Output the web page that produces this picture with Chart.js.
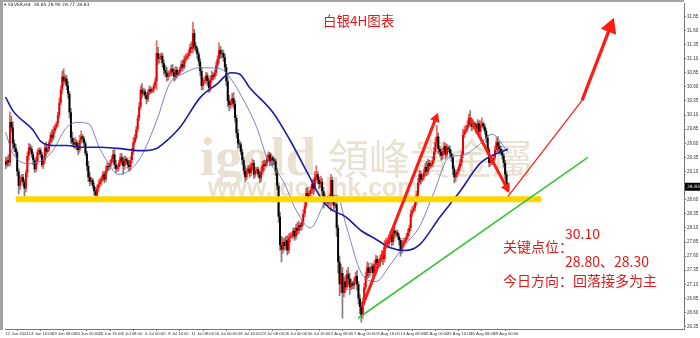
<!DOCTYPE html>
<html><head><meta charset="utf-8">
<script src="https://cdn.jsdelivr.net/npm/chart.js@4.4.1/dist/chart.umd.min.js"></script>
<style>html,body{margin:0;padding:0;background:#fff;overflow:hidden}canvas{display:block}</style>
</head><body>
<canvas id="c" width="700" height="338"></canvas>
<script>
// ---- H4 candles, 12 Jun 2024 00:00 .. 30 Aug 2024 16:00 (6 bars per day) ----
const opens = [
29.28,29.22,29.30,29.26,29.98,29.88, 29.60,29.52,29.44,29.10,28.85,28.95, 29.00,28.92,28.80,29.08,29.38,29.52,
29.50,29.40,29.30,29.14,29.28,29.45, 29.48,29.40,29.22,29.30,29.52,29.45, 29.50,29.62,29.75,29.70,29.82,29.88,
29.95,30.10,30.32,30.55,30.78,30.70, 30.75,30.62,30.48,30.15,29.70,29.62, 29.58,29.62,29.55,29.48,29.65,29.72,
29.68,29.60,29.42,29.20,29.00,28.92, 28.95,28.85,28.75,28.68,28.80,28.88, 28.92,28.98,29.05,28.96,29.12,29.20,
29.18,29.25,29.32,29.40,29.22,29.15, 29.18,29.25,29.35,29.28,29.20,29.32, 29.30,29.22,29.18,29.30,29.45,29.62,
29.70,29.85,30.05,30.25,30.55,30.48, 30.52,30.45,30.38,30.50,30.56,30.52, 30.55,30.62,30.70,31.20,31.10,31.12,
31.15,31.02,30.90,30.85,30.78,30.82, 30.85,30.92,30.86,30.78,30.90,30.82, 30.85,30.92,31.00,30.95,31.08,31.12,
31.15,31.20,31.30,31.28,31.55,31.32, 31.28,31.18,31.05,30.88,30.62,30.70, 30.72,30.80,30.70,30.58,30.72,30.80,
30.78,30.85,30.98,31.10,31.25,31.18, 31.20,31.12,30.95,30.70,30.35,30.28, 30.32,30.40,30.30,30.05,29.78,29.60,
29.58,29.45,29.30,29.12,29.00,29.10, 29.15,29.08,29.18,29.25,29.05,29.12, 29.14,29.05,28.98,29.10,29.22,29.20,
29.25,29.32,29.40,29.28,29.35,29.30, 29.28,29.10,28.85,28.30,27.80,27.72, 27.85,27.78,27.88,27.70,27.92,27.95,
27.98,28.05,27.95,28.10,28.05,28.15, 28.12,28.20,28.35,28.50,28.72,28.65, 28.70,28.78,28.88,28.80,29.00,29.05,
28.95,28.88,28.92,28.75,28.58,28.62, 28.60,28.55,28.62,28.95,28.60,28.50, 28.52,28.10,27.50,27.10,27.30,26.95,
27.15,27.05,27.28,27.20,27.05,27.12, 27.08,27.15,27.25,27.10,26.85,26.70, 26.55,26.80,27.05,27.25,27.40,27.30,
27.35,27.42,27.30,27.45,27.55,27.48, 27.50,27.55,27.62,27.55,27.80,27.85, 27.82,27.90,27.98,27.85,28.05,28.00,
28.02,27.95,27.88,27.70,27.78,27.85, 27.88,27.95,28.02,28.10,28.35,28.40, 28.45,28.55,28.68,28.90,29.05,28.95,
29.00,29.08,29.18,29.10,29.25,29.20, 29.22,29.30,29.45,29.62,29.72,29.50, 29.45,29.38,29.45,29.55,29.40,29.52,
29.50,29.42,29.35,29.15,29.00,29.05, 29.10,29.18,29.25,29.40,29.75,29.82, 29.85,29.92,30.05,29.98,29.90,29.95,
29.92,29.85,29.95,29.80,29.92,29.95, 29.90,29.82,29.70,29.48,29.25,29.30, 29.28,29.35,29.48,29.62,29.55,29.50,
29.45,29.38,29.25,29.05,28.85];
const highs = [
29.35,29.36,29.40,30.16,30.08,29.98, 29.66,29.58,29.48,29.15,29.02,29.05, 29.05,28.96,29.12,29.45,29.60,29.58,
29.55,29.45,29.34,29.36,29.50,29.52, 29.52,29.44,29.38,29.60,29.62,29.55, 29.66,29.80,29.85,29.90,29.93,29.98,
30.15,30.40,30.62,30.88,30.92,30.82, 30.80,30.70,30.52,30.22,29.80,29.68, 29.70,29.66,29.60,29.74,29.82,29.76,
29.72,29.64,29.46,29.28,29.08,29.00, 28.98,28.90,28.82,28.86,28.95,28.98, 29.02,29.10,29.10,29.20,29.26,29.24,
29.30,29.38,29.48,29.50,29.30,29.22, 29.30,29.42,29.42,29.36,29.38,29.36, 29.34,29.30,29.36,29.52,29.70,29.76,
29.90,30.10,30.32,30.62,30.66,30.58, 30.56,30.50,30.55,30.62,30.60,30.58, 30.66,30.76,31.42,31.30,31.18,31.20,
31.20,31.08,30.98,30.95,30.88,30.90, 30.98,31.00,30.92,30.96,30.95,30.90, 30.96,31.06,31.08,31.15,31.18,31.20,
31.26,31.36,31.40,31.75,31.62,31.38, 31.32,31.22,31.10,30.95,30.76,30.78, 30.86,30.85,30.75,30.80,30.88,30.85,
30.90,31.05,31.15,31.38,31.32,31.26, 31.25,31.18,31.00,30.78,30.45,30.38, 30.48,30.50,30.36,30.10,29.85,29.66,
29.62,29.50,29.35,29.20,29.16,29.20, 29.22,29.25,29.32,29.30,29.18,29.18, 29.18,29.10,29.18,29.28,29.30,29.30,
29.38,29.45,29.44,29.42,29.38,29.34, 29.32,29.15,28.90,28.38,27.95,27.92, 27.92,27.95,27.96,28.00,28.02,28.02,
28.10,28.10,28.16,28.20,28.22,28.18, 28.25,28.42,28.58,28.80,28.82,28.75, 28.84,28.95,28.96,29.10,29.20,29.10,
29.00,29.02,28.98,28.82,28.70,28.66, 28.66,28.70,29.05,29.00,28.68,28.58, 28.55,28.15,27.60,27.45,27.40,27.22,
27.25,27.35,27.40,27.30,27.20,27.16, 27.22,27.32,27.35,27.15,26.92,26.78, 26.86,27.12,27.32,27.50,27.48,27.40,
27.48,27.46,27.52,27.62,27.60,27.55, 27.62,27.70,27.68,27.88,27.92,27.88, 27.96,28.05,28.02,28.12,28.10,28.06,
28.06,28.00,27.92,27.88,27.92,27.92, 28.00,28.08,28.15,28.42,28.48,28.50, 28.62,28.75,28.98,29.12,29.10,29.05,
29.15,29.25,29.28,29.32,29.30,29.26, 29.36,29.52,29.70,29.92,29.78,29.55, 29.50,29.52,29.62,29.60,29.58,29.56,
29.55,29.48,29.40,29.20,29.10,29.14, 29.22,29.32,29.46,29.85,29.90,29.92, 30.00,30.12,30.18,30.05,30.02,29.98,
29.96,30.02,30.00,30.00,30.05,29.98, 29.94,29.86,29.75,29.52,29.38,29.34, 29.40,29.55,29.70,29.72,29.62,29.55,
29.50,29.42,29.30,29.10,28.90];
const lows = [
29.15,29.18,29.20,29.20,29.80,29.50, 29.45,29.38,29.02,28.70,28.78,28.90, 28.85,28.66,28.74,29.00,29.30,29.44,
29.35,29.22,29.08,29.10,29.22,29.40, 29.35,29.18,29.15,29.25,29.38,29.42, 29.46,29.58,29.62,29.66,29.78,29.85,
29.90,30.05,30.28,30.48,30.62,30.66, 30.55,30.40,30.05,29.60,29.55,29.52, 29.50,29.48,29.40,29.44,29.60,29.62,
29.55,29.38,29.12,28.92,28.85,28.88, 28.80,28.68,28.57,28.62,28.74,28.84, 28.86,28.94,28.90,28.92,29.08,29.12,
29.14,29.20,29.28,29.15,29.08,29.10, 29.12,29.20,29.22,29.05,29.14,29.25, 29.16,29.10,29.12,29.25,29.40,29.58,
29.66,29.80,30.00,30.20,30.40,30.44, 30.40,30.30,30.34,30.46,30.48,30.50, 30.50,30.58,30.55,31.00,31.02,31.08,
30.95,30.82,30.78,30.70,30.72,30.78, 30.80,30.80,30.70,30.72,30.76,30.80, 30.82,30.88,30.88,30.92,31.02,31.08,
31.10,31.15,31.20,31.20,31.25,31.22, 31.10,30.98,30.80,30.55,30.55,30.65, 30.66,30.62,30.50,30.52,30.68,30.72,
30.74,30.80,30.92,31.02,31.10,31.12, 31.05,30.88,30.62,30.25,30.18,30.22, 30.26,30.22,29.98,29.70,29.52,29.52,
29.40,29.22,29.05,28.92,28.95,29.06, 29.00,29.02,29.12,28.98,29.00,29.08, 29.00,28.90,28.92,29.05,29.12,29.18,
29.20,29.28,29.20,29.22,29.20,29.22, 29.02,28.78,28.20,27.70,27.50,27.65, 27.70,27.72,27.62,27.65,27.85,27.92,
27.92,27.88,27.90,27.98,28.00,28.06, 28.06,28.15,28.30,28.45,28.58,28.62, 28.65,28.72,28.70,28.75,28.92,28.88,
28.80,28.82,28.68,28.45,28.50,28.54, 28.48,28.50,28.40,28.52,28.42,28.46, 27.95,27.30,26.90,26.95,26.50,26.88,
26.95,27.00,27.10,26.92,27.00,27.02, 27.02,27.10,27.00,26.75,26.58,26.43, 26.50,26.75,27.00,27.20,27.22,27.25,
27.30,27.22,27.25,27.38,27.40,27.44, 27.42,27.50,27.45,27.50,27.75,27.76, 27.78,27.85,27.78,27.80,27.92,27.96,
27.90,27.80,27.60,27.65,27.74,27.82, 27.84,27.90,27.96,28.05,28.30,28.38, 28.40,28.50,28.62,28.85,28.88,28.92,
28.95,29.02,29.02,29.05,29.14,29.16, 29.18,29.25,29.40,29.55,29.42,29.38, 29.30,29.32,29.40,29.32,29.35,29.45,
29.36,29.28,29.05,28.90,28.92,29.00, 29.05,29.12,29.20,29.35,29.70,29.78, 29.80,29.88,29.90,29.82,29.85,29.88,
29.78,29.80,29.72,29.70,29.88,29.85, 29.76,29.62,29.40,29.18,29.20,29.22, 29.24,29.30,29.42,29.45,29.42,29.40,
29.32,29.18,28.95,28.75,28.77];
const closes = [
29.22,29.30,29.26,29.98,29.88,29.60, 29.52,29.44,29.10,28.85,28.95,29.00, 28.92,28.80,29.08,29.38,29.52,29.50,
29.40,29.30,29.14,29.28,29.45,29.48, 29.40,29.22,29.30,29.52,29.45,29.50, 29.62,29.75,29.70,29.82,29.88,29.95,
30.10,30.32,30.55,30.78,30.70,30.75, 30.62,30.48,30.15,29.70,29.62,29.58, 29.62,29.55,29.48,29.65,29.72,29.68,
29.60,29.42,29.20,29.00,28.92,28.95, 28.85,28.75,28.68,28.80,28.88,28.92, 28.98,29.05,28.96,29.12,29.20,29.18,
29.25,29.32,29.40,29.22,29.15,29.18, 29.25,29.35,29.28,29.20,29.32,29.30, 29.22,29.18,29.30,29.45,29.62,29.70,
29.85,30.05,30.25,30.55,30.48,30.52, 30.45,30.38,30.50,30.56,30.52,30.55, 30.62,30.70,31.20,31.10,31.12,31.15,
31.02,30.90,30.85,30.78,30.82,30.85, 30.92,30.86,30.78,30.90,30.82,30.85, 30.92,31.00,30.95,31.08,31.12,31.15,
31.20,31.30,31.28,31.55,31.32,31.28, 31.18,31.05,30.88,30.62,30.70,30.72, 30.80,30.70,30.58,30.72,30.80,30.78,
30.85,30.98,31.10,31.25,31.18,31.20, 31.12,30.95,30.70,30.35,30.28,30.32, 30.40,30.30,30.05,29.78,29.60,29.58,
29.45,29.30,29.12,29.00,29.10,29.15, 29.08,29.18,29.25,29.05,29.12,29.14, 29.05,28.98,29.10,29.22,29.20,29.25,
29.32,29.40,29.28,29.35,29.30,29.28, 29.10,28.85,28.30,27.80,27.72,27.85, 27.78,27.88,27.70,27.92,27.95,27.98,
28.05,27.95,28.10,28.05,28.15,28.12, 28.20,28.35,28.50,28.72,28.65,28.70, 28.78,28.88,28.80,29.00,29.05,28.95,
28.88,28.92,28.75,28.58,28.62,28.60, 28.55,28.62,28.95,28.60,28.50,28.52, 28.10,27.50,27.10,27.30,26.95,27.15,
27.05,27.28,27.20,27.05,27.12,27.08, 27.15,27.25,27.10,26.85,26.70,26.55, 26.80,27.05,27.25,27.40,27.30,27.35,
27.42,27.30,27.45,27.55,27.48,27.50, 27.55,27.62,27.55,27.80,27.85,27.82, 27.90,27.98,27.85,28.05,28.00,28.02,
27.95,27.88,27.70,27.78,27.85,27.88, 27.95,28.02,28.10,28.35,28.40,28.45, 28.55,28.68,28.90,29.05,28.95,29.00,
29.08,29.18,29.10,29.25,29.20,29.22, 29.30,29.45,29.62,29.72,29.50,29.45, 29.38,29.45,29.55,29.40,29.52,29.50,
29.42,29.35,29.15,29.00,29.05,29.10, 29.18,29.25,29.40,29.75,29.82,29.85, 29.92,30.05,29.98,29.90,29.95,29.92,
29.85,29.95,29.80,29.92,29.95,29.90, 29.82,29.70,29.48,29.25,29.30,29.28, 29.35,29.48,29.62,29.55,29.50,29.45,
29.38,29.25,29.05,28.85,28.83];

// moving averages: [bar index, price]
const maSlow = [[0,30.42],[5,30.18],[19,29.83],[24,29.64],[33,29.56],[42,29.56],[53,29.53],[65,29.53],[77,29.51],
 [93,29.47],[104,29.51],[108,29.58],[120,29.88],[134,30.41],[146,30.66],[155,30.85],[161,30.83],[168,30.59],
 [184,30.15],[196,29.65],[208,29.07],[217,28.64],[223,28.45],[234,28.30],[245,28.05],[255,27.90],[265,27.75],
 [275,27.70],[285,27.80],[299,28.29],[313,28.75],[327,29.25],[346,29.50]];
const maFast = [[0,29.80],[5,29.42],[17,29.24],[31,29.42],[42,29.88],[49,29.97],[57,29.95],[65,29.50],[72,29.20],
 [77,29.05],[84,29.10],[93,29.35],[104,30.00],[113,30.66],[122,30.83],[134,30.94],[148,30.92],[156,30.71],
 [163,30.41],[173,29.88],[180,29.35],[191,28.94],[200,28.42],[210,28.10],[220,28.55],[228,28.68],[235,28.10],
 [245,27.30],[255,27.15],[265,27.45],[275,27.80],[285,28.12],[295,28.73],[305,29.34],[315,29.39],[325,29.55],
 [335,29.76],[346,29.44]];

// axis ticks
const xTickBars = [0,16,32,48,64,80,96,112,128,144,160,176,192,208,224,240,256,272,288,304,320,336];
const xTickLabels = ["12 Jun 2024","14 Jun 16:00","19 Jun 08:00","24 Jun 00:00","26 Jun 16:00","1 Jul 08:00",
 "4 Jul 00:00","8 Jul 16:00","11 Jul 08:00","16 Jul 00:00","18 Jul 16:00","23 Jul 08:00","26 Jul 00:00",
 "30 Jul 16:00","2 Aug 08:00","7 Aug 00:00","9 Aug 16:00","14 Aug 08:00","19 Aug 00:00","21 Aug 16:00",
 "26 Aug 08:00","29 Aug 00:00"];
const yTicks = [26.35,26.60,26.85,27.10,27.35,27.60,27.85,28.10,28.35,28.60,28.85,29.10,29.35,29.60,29.85,
 30.10,30.35,30.60,30.85,31.10,31.35,31.60,31.85];

// drawn analysis (bar index, price)
const supportLine = [[7,28.61],[369,28.61]];
const trendLine = [[242.7,26.50],[401,29.35]];
const arrowUp1 = [[245.5,26.70],[297,30.09]];
const arrowDown = [[319.8,30.04],[346,28.77]];
const projLine = [[346,28.66],[397,30.36]];
const arrowUp2 = [[397,30.36],[417.6,31.74]];

const pts = a => a.map(([x,y]) => ({x, y}));
const idx = closes.map((_, i) => i);
const isUp = i => closes[i] >= opens[i];

const deco = {
  id: 'deco',
  beforeDraw(chart) {
    const c = chart.ctx, a = chart.chartArea;
    c.save();
    c.fillStyle = '#ffffff'; c.fillRect(0, 0, chart.width, chart.height);
    c.fillStyle = '#a4a4a4';
    c.fillRect(0, 0, a.right, 2);
    c.fillRect(0, 0, 3, a.bottom + 1);
    c.restore();
  },
  beforeDatasetsDraw(chart) {
    const c = chart.ctx;
    c.save();
    c.fillStyle = '#e9e1d2';
    c.textBaseline = 'alphabetic';
    c.font = 'bold 55px "Liberation Serif"';
    c.fillText('igold', 200, 175);
    c.font = '41px "Noto Sans CJK TC"';
    c.fillText('領峰貴金屬', 328, 174);
    c.font = 'bold 25px "Liberation Sans"';
    c.fillText('www.igoldhk.com', 208, 196);
    c.restore();
  },
  afterDatasetsDraw(chart) {
    const c = chart.ctx;
    chart.data.datasets.forEach((ds, i) => {
      if (!ds.arrowSize) return;
      const d = chart.getDatasetMeta(i).data;
      const a = d[d.length - 2], b = d[d.length - 1];
      const ang = Math.atan2(b.y - a.y, b.x - a.x);
      const L = ds.arrowSize, W = ds.arrowSize * 0.55;
      const tx = b.x + Math.cos(ang) * L * 0.35, ty = b.y + Math.sin(ang) * L * 0.35;
      const bx = tx - Math.cos(ang) * L, by = ty - Math.sin(ang) * L;
      const px = -Math.sin(ang) * W, py = Math.cos(ang) * W;
      c.save();
      c.fillStyle = ds.borderColor;
      c.beginPath();
      c.moveTo(tx, ty); c.lineTo(bx + px, by + py); c.lineTo(bx - px, by - py);
      c.closePath(); c.fill();
      c.restore();
    });
  },
  afterDraw(chart) {
    const c = chart.ctx, y = chart.scales.y, a = chart.chartArea;
    c.save();
    c.fillStyle = '#222';
    c.font = '4.5px "DejaVu Sans"';
    c.textBaseline = 'middle';
    c.fillText('\u25BE SILVER,H4  28.85 28.90 28.77 28.83', 4, 5);
    c.fillStyle = '#e2191b';
    c.font = '13.5px "Noto Sans CJK SC"';
    c.fillText('白银4H图表', 323, 21);
    c.font = '14px "Noto Sans CJK SC"';
    c.fillText('30.10', 565, 234);
    c.fillText('关键点位：', 503, 247);
    c.fillText('28.80、28.30', 565, 262);
    c.fillText('今日方向：回落接多为主', 503, 281);
    const last = closes[closes.length - 1];
    const py = y.getPixelForValue(last);
    c.fillStyle = '#000';
    c.fillRect(a.right + 1, py - 4, chart.width - a.right - 1, 8);
    c.fillStyle = '#fff';
    c.font = '4.5px "DejaVu Sans"';
    c.fillText(last.toFixed(2), a.right + 3, py);
    c.restore();
  }
};

new Chart(document.getElementById('c'), {
  type: 'line',
  data: {
    datasets: [
      { type: 'line', data: pts(supportLine), borderColor: '#ffd700', borderWidth: 6, pointRadius: 0, order: 2, borderCapStyle: 'butt' },
      { type: 'line', data: pts(trendLine), borderColor: '#3ac43a', borderWidth: 1.6, pointRadius: 0, order: 1 },
      { type: 'line', data: pts(arrowUp1), borderColor: '#ff1a12', borderWidth: 3, pointRadius: 0, order: 0, arrowSize: 9 },
      { type: 'line', data: pts(arrowDown), borderColor: '#ff1a12', borderWidth: 3, pointRadius: 0, order: 0, arrowSize: 9 },
      { type: 'line', data: pts(projLine), borderColor: '#ff1a12', borderWidth: 1.2, pointRadius: 0, order: 0 },
      { type: 'line', data: pts(arrowUp2), borderColor: '#ff1a12', borderWidth: 3.2, pointRadius: 0, order: 0, arrowSize: 15 },
      { type: 'line', data: pts(maSlow), borderColor: '#1c1ca8', borderWidth: 1.6, pointRadius: 0, cubicInterpolationMode: 'monotone', order: 3 },
      { type: 'line', data: pts(maFast), borderColor: '#7070c8', borderWidth: 0.9, pointRadius: 0, cubicInterpolationMode: 'monotone', order: 3 },
      { type: 'bar', data: idx.map(i => ({x: i, y: [opens[i], closes[i]]})),
        backgroundColor: idx.map(i => isUp(i) ? '#e80000' : '#000000'),
        grouped: false, barPercentage: 1.35, categoryPercentage: 1, minBarLength: 1, borderWidth: 0, order: 5 },
      { type: 'bar', data: idx.map(i => ({x: i, y: [lows[i], highs[i]]})),
        backgroundColor: idx.map(i => isUp(i) ? 'rgba(225,0,0,0.6)' : 'rgba(0,0,0,0.5)'),
        grouped: false, barPercentage: 1, categoryPercentage: 1, maxBarThickness: 1, borderWidth: 0, order: 6 }
    ]
  },
  options: {
    responsive: false, animation: false, devicePixelRatio: 1, events: [],
    layout: { padding: { left: 5, top: 3, right: 0, bottom: 0 } },
    plugins: { legend: { display: false }, tooltip: { enabled: false } },
    scales: {
      x: {
        type: 'linear', min: -0.4, max: 467.2, offset: false,
        grid: { display: true, drawOnChartArea: false, tickLength: 2, color: '#777' },
        border: { display: true, color: '#777' },
        ticks: { font: { size: 4.2, family: 'Liberation Sans' }, color: '#333', maxRotation: 0, autoSkip: false,
                 align: 'start', padding: 0, callback: (v, i) => xTickLabels[i] },
        afterBuildTicks: s => { s.ticks = xTickBars.map(v => ({ value: v })); },
        afterFit: s => { s.height = 9; }
      },
      y: {
        type: 'linear', position: 'right', min: 26.309, max: 32.0745,
        grid: { display: true, drawOnChartArea: false, tickLength: 2, color: '#777' },
        border: { display: true, color: '#777' },
        ticks: { font: { size: 4.5, family: 'Liberation Sans' }, color: '#333', padding: 1, callback: v => Number(v).toFixed(2) },
        afterBuildTicks: s => { s.ticks = yTicks.map(v => ({ value: v })); },
        afterFit: s => { s.width = 16; }
      }
    }
  },
  plugins: [deco]
});
</script>
</body></html>
